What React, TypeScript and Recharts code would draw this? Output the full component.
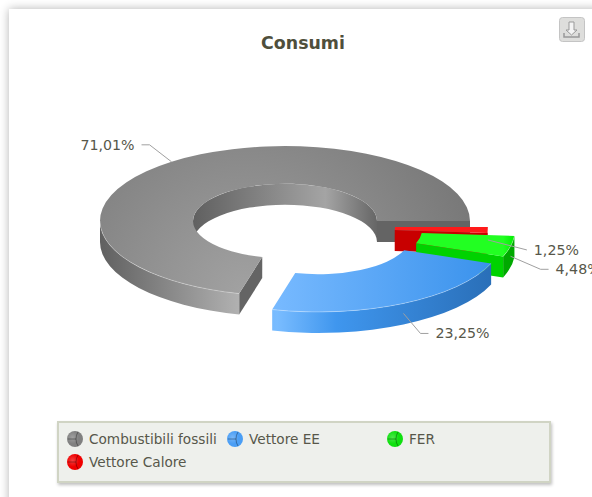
import React from "react";
import { PieChart, Pie, Legend } from "recharts";

const CATEGORIES = ["Combustibili fossili", "Vettore EE", "FER", "Vettore Calore"];
const VALUES = [71.01, 23.25, 4.48, 1.25];
// painted back to front: the blue slice sits on top of green and red
const PAINT_ORDER = [0, 3, 2, 1];

const FONT = "'DejaVu Sans', Verdana, sans-serif";
const TEXT_COLOR = "#57574a";
const CX = 285;
const CY = 221;
const OUTER = 185;
const INNER = 92;
const SQUASH = 0.405;
const DEPTH = 21;

const COLORS: Record<string, any> = {
  "Combustibili fossili": {
    explode: [0, 0],
    elbow: [-22, -17, -30, -17],
    top: ["#a2a2a2", "#757575"],
    wall: ["#606060", "#b4b4b4", "#777777"],
    inner: ["#606060", "#a4a4a4", "#666666"],
    cap: "#646464",
    legend: "#808080",
  },
  "Vettore EE": {
    explode: [33, 16],
    elbow: [17, 20, 25, 20],
    top: ["#78baff", "#3a92ec"],
    wall: ["#3f96ee", "#79bcff", "#286cb4"],
    inner: ["#286cb4", "#4a9cf0", "#286cb4"],
    cap: "#2a70bc",
    legend: "#4a9ef5",
  },
  FER: {
    explode: [45, 9],
    elbow: [30, 13, 38, 13],
    top: ["#22ff22", "#00ee00"],
    wall: ["#00c000", "#00b000", "#00a800"],
    inner: ["#00a000", "#00c000", "#00a000"],
    cap: "#00d200",
    legend: "#0fe00f",
  },
  "Vettore Calore": {
    explode: [18, 6],
    elbow: [39, 10, 39, 10],
    top: ["#ff1a1a", "#ee0000"],
    wall: ["#cc0000", "#d00000", "#b00000"],
    inner: ["#aa0000", "#cc0000", "#aa0000"],
    cap: "#c80000",
    legend: "#f00000",
  },
};

const total = VALUES.reduce((a, b) => a + b, 0);
const START = (VALUES[0] / total) * 360;

const pieData = PAINT_ORDER.map((i) => ({ name: CATEGORIES[i], value: VALUES[i] }));

const rad = (a: number) => (a * Math.PI) / 180;
const pt = (a: number, r: number, ox: number, oy: number) => [
  ox + r * Math.cos(rad(a)),
  oy - r * SQUASH * Math.sin(rad(a)),
];
const fmt = (p: number[]) => `${p[0].toFixed(2)} ${p[1].toFixed(2)}`;

// band between an arc at the top of the ring and the same arc pushed down
function wallPath(a0: number, a1: number, r: number, ox: number, oy: number) {
  const large = a1 - a0 > 180 ? 1 : 0;
  const ry = r * SQUASH;
  const t0 = pt(a0, r, ox, oy);
  const t1 = pt(a1, r, ox, oy);
  const b0 = pt(a0, r, ox, oy + DEPTH);
  const b1 = pt(a1, r, ox, oy + DEPTH);
  return `M${fmt(t0)} A${r} ${ry} 0 ${large} 0 ${fmt(t1)} L${fmt(b1)} A${r} ${ry} 0 ${large} 1 ${fmt(b0)} Z`;
}

function capPath(a: number, ox: number, oy: number, r0: number, r1: number) {
  const p0 = pt(a, r0, ox, oy);
  const p1 = pt(a, r1, ox, oy);
  const p2 = pt(a, r1, ox, oy + DEPTH);
  const p3 = pt(a, r0, ox, oy + DEPTH);
  return `M${fmt(p0)} L${fmt(p1)} L${fmt(p2)} L${fmt(p3)} Z`;
}

function Slice3D(props: any) {
  const { cx, cy, innerRadius, outerRadius, startAngle, endAngle, name } = props;
  const style = COLORS[name];
  const a0 = Math.min(startAngle, endAngle);
  const a1 = Math.max(startAngle, endAngle);
  const ox = cx + style.explode[0];
  const oy = cy + style.explode[1];
  const id = name.replace(/\s/g, "");
  const large = a1 - a0 > 180 ? 1 : 0;
  const R = outerRadius;
  const r = innerRadius;

  const topPath =
    `M${fmt(pt(a0, R, ox, oy))} A${R} ${R * SQUASH} 0 ${large} 0 ${fmt(pt(a1, R, ox, oy))} ` +
    `L${fmt(pt(a1, r, ox, oy))} A${r} ${r * SQUASH} 0 ${large} 1 ${fmt(pt(a0, r, ox, oy))} Z`;

  // only the front of the outer wall and the back of the inner wall face the viewer
  const outerRanges: number[][] = [];
  if (a0 < 0) outerRanges.push([a0, Math.min(a1, 0)]);
  if (a1 > 180) outerRanges.push([Math.max(a0, 180), a1]);
  const innerFrom = Math.max(a0, 0);
  const innerTo = Math.min(a1, 180);

  const caps: number[] = [];
  if (Math.cos(rad(a0)) > 0) caps.push(a0);
  if (Math.cos(rad(a1)) < 0) caps.push(a1);

  const left = ox - R;
  const right = ox + R;

  return (
    <g>
      <defs>
        <linearGradient id={`wall${id}`} gradientUnits="userSpaceOnUse" x1={left} x2={right} y1={0} y2={0}>
          <stop offset="0" stopColor={style.wall[0]} />
          <stop offset="0.39" stopColor={style.wall[1]} />
          <stop offset="0.55" stopColor={style.wall[0]} />
          <stop offset="1" stopColor={style.wall[2]} />
        </linearGradient>
        <linearGradient id={`inner${id}`} gradientUnits="userSpaceOnUse" x1={ox - r} x2={ox + r} y1={0} y2={0}>
          <stop offset="0" stopColor={style.inner[0]} />
          <stop offset="0.72" stopColor={style.inner[1]} />
          <stop offset="1" stopColor={style.inner[2]} />
        </linearGradient>
        {name === CATEGORIES[0] ? (
          <radialGradient id={`top${id}`} gradientUnits="userSpaceOnUse" cx={245} cy={295} r={260}>
            <stop offset="0" stopColor={style.top[0]} />
            <stop offset="1" stopColor={style.top[1]} />
          </radialGradient>
        ) : (
          <linearGradient
            id={`top${id}`}
            gradientUnits="userSpaceOnUse"
            x1={pt(a0, R, ox, oy)[0]}
            x2={pt(a1, R, ox, oy)[0]}
            y1={0}
            y2={0}
          >
            <stop offset="0" stopColor={style.top[0]} />
            <stop offset="1" stopColor={style.top[1]} />
          </linearGradient>
        )}
      </defs>
      {innerTo > innerFrom && <path d={wallPath(innerFrom, innerTo, r, ox, oy)} fill={`url(#inner${id})`} />}
      {caps.map((a) => (
        <path key={a} d={capPath(a, ox, oy, r, R)} fill={style.cap} />
      ))}
      {outerRanges.map(([f, t]) => (
        <path key={f} d={wallPath(f, t, R, ox, oy)} fill={`url(#wall${id})`} />
      ))}
      <path d={topPath} fill={`url(#top${id})`} />
      {outerRanges.map(([f, t]) => (
        <path
          key={`rim${f}`}
          d={`M${fmt(pt(f, R, ox, oy))} A${R} ${R * SQUASH} 0 0 0 ${fmt(pt(t, R, ox, oy))}`}
          fill="none"
          stroke="#ffffff"
          strokeOpacity={0.3}
        />
      ))}
    </g>
  );
}

function SliceLabel(props: any) {
  const { cx, cy, outerRadius, midAngle, name, value } = props;
  const style = COLORS[name];
  const p = pt(midAngle, outerRadius, cx + style.explode[0], cy + style.explode[1]);
  // labels on the front of the ring hook onto the side wall
  const y0 = Math.sin(rad(midAngle)) < 0 ? p[1] + 10 : p[1];
  const [ex, ey, tx, ty] = style.elbow;
  const onLeft = tx < 0;
  return (
    <g>
      <polyline
        points={`${p[0]},${y0} ${p[0] + ex},${y0 + ey} ${p[0] + tx},${y0 + ty}`}
        fill="none"
        stroke="#a0a0a0"
        strokeWidth={1}
      />
      <text
        x={p[0] + tx + (onLeft ? -7 : 7)}
        y={y0 + ty + 5}
        textAnchor={onLeft ? "end" : "start"}
        fontFamily={FONT}
        fontSize={14.2}
        fill={TEXT_COLOR}
      >
        {value.toFixed(2).replace(".", ",")}%
      </text>
    </g>
  );
}

function LegendIcon({ color, id }: { color: string; id: string }) {
  return (
    <svg width={18} height={18} style={{ position: "absolute", left: 0, top: 0 }}>
      <defs>
        <radialGradient id={`lg${id}`} cx="0.35" cy="0.4" r="0.8">
          <stop offset="0" stopColor="#ffffff" stopOpacity={0.25} />
          <stop offset="0.5" stopColor="#ffffff" stopOpacity={0} />
        </radialGradient>
      </defs>
      <circle cx={9} cy={9} r={8} fill={color} />
      <circle cx={9} cy={9} r={8} fill={`url(#lg${id})`} />
      <path d="M2 9 L10 9 M12 2 Q10 5 10 9 Q10 13 12 16" fill="none" stroke="#00000055" strokeWidth={1} />
    </svg>
  );
}

function ChartLegend() {
  return (
    <div
      style={{
        position: "relative",
        width: 490,
        height: 58,
        background: "#eef0ec",
        border: "2px solid #d0d4c4",
        boxShadow: "1px 2px 3px rgba(0,0,0,0.25)",
      }}
    >
      {CATEGORIES.map((name, i) => (
        <div
          key={name}
          style={{
            position: "absolute",
            left: 7 + (i % 3) * 160,
            top: 7 + Math.floor(i / 3) * 23,
            height: 18,
            paddingLeft: 23,
            fontFamily: FONT,
            fontSize: 13.65,
            lineHeight: "18px",
            color: TEXT_COLOR,
            whiteSpace: "nowrap",
          }}
        >
          <LegendIcon color={COLORS[name].legend} id={name.replace(/\s/g, "")} />
          {name}
        </div>
      ))}
    </div>
  );
}

export default function App() {
  return (
    <div style={{ position: "fixed", left: 0, top: 0, width: 592, height: 497, overflow: "hidden", background: "#fff" }}>
      <div
        style={{
          position: "absolute",
          left: 9,
          top: 9,
          width: 640,
          height: 540,
          background: "#fff",
          boxShadow: "0 0 9px rgba(0,0,0,0.3)",
        }}
      />
      <div style={{ position: "absolute", left: 0, top: 0 }}>
        <PieChart width={592} height={497} margin={{ top: 0, right: 0, bottom: 0, left: 0 }}>
          <text x={303} y={49} textAnchor="middle" fontFamily={FONT} fontWeight="bold" fontSize={17.4} fill="#4f4f3c">
            Consumi
          </text>
          <g>
            <rect x={559.5} y={17.5} width={25} height={24} rx={3} fill="#dededc" stroke="#c4c4c4" />
            <path
              d="M569 22 h5 v8 h3 l-5.5 5 l-5.5 -5 h3 z"
              fill="#f4f4f4"
              stroke="#999999"
              strokeWidth={1}
            />
            <path d="M564 33 v4 h15 v-4" fill="none" stroke="#999999" strokeWidth={1.5} />
          </g>
          <Pie
            data={pieData}
            dataKey="value"
            nameKey="name"
            cx={CX}
            cy={CY}
            innerRadius={INNER}
            outerRadius={OUTER}
            startAngle={START}
            endAngle={START - 360}
            paddingAngle={0}
            stroke="none"
            isAnimationActive={false}
            shape={Slice3D}
            label={SliceLabel}
            labelLine={false}
          />
          <Legend
            content={<ChartLegend />}
            wrapperStyle={{ position: "absolute", left: 57, top: 421, width: 494, height: 62, bottom: "auto" }}
          />
        </PieChart>
      </div>
    </div>
  );
}
